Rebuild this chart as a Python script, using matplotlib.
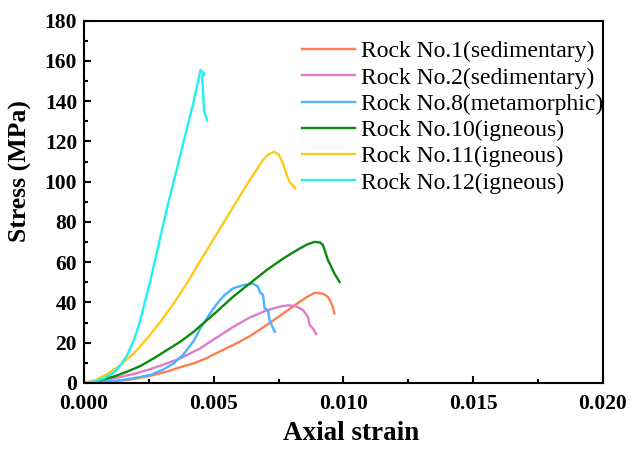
import numpy as np
import matplotlib
matplotlib.use("Agg")
import matplotlib.pyplot as plt
from matplotlib.ticker import MultipleLocator

plt.rcParams['font.family'] = ['Liberation Serif', 'DejaVu Serif']

# strain values, stress in MPa
strain_1 = [0, 0.00064, 0.00128, 0.00192, 0.00256, 0.0032, 0.00372, 0.00423, 0.0047, 0.0051,
            0.00574, 0.00638, 0.00703, 0.00767, 0.00831, 0.0086, 0.00889, 0.00921, 0.0094,
            0.0095, 0.00959, 0.00965]
stress_1 = [0, 0.5, 1.0, 2.0, 3.6, 5.7, 7.9, 9.8, 12.2, 14.8,
            18.8, 23.2, 28.7, 34.5, 40.3, 42.8, 44.8, 44.4, 42.8,
            40.5, 37.8, 34.5]

strain_2 = [0, 0.00064, 0.00128, 0.00192, 0.00256, 0.0032, 0.00372, 0.00423, 0.00446, 0.0051,
            0.00574, 0.00638, 0.00703, 0.0075, 0.00786, 0.00818, 0.00844, 0.00863, 0.0087,
            0.00882, 0.00895]
stress_2 = [0, 1.2, 2.7, 4.5, 6.9, 9.8, 12.3, 15.6, 17.1, 22.5,
            27.8, 32.5, 36.0, 37.8, 38.6, 38.1, 36.2, 32.9, 28.7,
            27.1, 24.3]

strain_8 = [0, 0.00128, 0.00192, 0.00256, 0.00308, 0.00346, 0.00385, 0.00423, 0.0045, 0.0048,
            0.0051, 0.0054, 0.00574, 0.00613, 0.00651, 0.00671, 0.00677, 0.0069, 0.00696,
            0.00709, 0.00715, 0.00735]
stress_8 = [0, 1.2, 2.4, 4.0, 6.9, 9.8, 14.5, 21.0, 27.5, 33.5,
            39.0, 43.5, 47.0, 48.6, 49.4, 47.8, 45.3, 43.7, 37.0,
            36.2, 31.2, 25.4]

strain_10 = [0, 0.00064, 0.00115, 0.00167, 0.00218, 0.00269, 0.0032, 0.00372, 0.00423, 0.0051,
             0.00574, 0.00638, 0.00703, 0.00767, 0.00831, 0.0086, 0.00888, 0.0091, 0.00921,
             0.0093, 0.0094, 0.00953, 0.00965, 0.00985]
stress_10 = [0, 1.5, 3.2, 5.7, 8.5, 12.3, 16.4, 20.6, 25.5, 35.3,
             42.8, 49.4, 56.0, 61.8, 66.8, 68.8, 70.1, 69.8, 68.5,
             65.0, 61.0, 57.7, 54.4, 50.2]

strain_11 = [0, 0.00045, 0.0009, 0.00141, 0.00192, 0.00244, 0.00295, 0.00346, 0.00397, 0.00433,
             0.00497, 0.00561, 0.00625, 0.00689, 0.0071, 0.00732, 0.0075, 0.00767, 0.00779,
             0.00792, 0.00814]
stress_11 = [0, 1.5, 4.5, 9.0, 14.8, 22.2, 30.5, 39.6, 49.6, 57.5,
             71.0, 84.5, 98.0, 110.7, 113.5, 114.9, 113.5, 109.1, 104.1,
             100.0, 96.7]

strain_12 = [0, 0.00038, 0.00077, 0.00115, 0.00141, 0.00167, 0.00192, 0.00212, 0.00231, 0.00254,
             0.00318, 0.00382, 0.00421, 0.00449, 0.00464, 0.00455, 0.00459, 0.00462, 0.00474]
stress_12 = [0, 0.8, 2.4, 5.2, 9.0, 14.0, 21.4, 29.0, 38.5, 50.0,
             85.9, 119.0, 139.0, 155.5, 153.5, 152.2, 144.0, 135.6, 130.6]

labels = ["Rock No.1(sedimentary)", "Rock No.2(sedimentary)", "Rock No.8(metamorphic)",
          "Rock No.10(igneous)", "Rock No.11(igneous)", "Rock No.12(igneous)"]
colors = ["#FF7F4F", "#E07CC8", "#4DB3FF", "#0B8A0B", "#FFC91A", "#1EF2F2"]

series = [(strain_1, stress_1), (strain_2, stress_2), (strain_8, stress_8),
          (strain_10, stress_10), (strain_11, stress_11), (strain_12, stress_12)]

fig = plt.figure(figsize=(6.32, 4.49), dpi=100)
ax = fig.add_axes([0.133, 0.147, 0.821, 0.807])

for (x, y), lab, c in zip(series, labels, colors):
    ax.plot(x, y, color=c, lw=1.7, label=lab, solid_joinstyle="round")

ax.set_xlim(0, 0.020)
ax.set_ylim(0, 180)
ax.xaxis.set_major_locator(MultipleLocator(0.005))
ax.xaxis.set_minor_locator(MultipleLocator(0.0025))
ax.yaxis.set_major_locator(MultipleLocator(20))
ax.yaxis.set_minor_locator(MultipleLocator(10))
ax.xaxis.set_major_formatter(plt.FuncFormatter(lambda v, p: "%.3f" % v))

ax.tick_params(which="both", direction="in", top=False, right=False, width=1.5)
ax.tick_params(which="major", length=5, labelsize=15.5)
ax.tick_params(which="minor", length=3)
ax.tick_params(axis="x", pad=8)
ax.tick_params(axis="y", pad=5)
for lab in ax.get_xticklabels() + ax.get_yticklabels():
    lab.set_fontweight("bold")
for s in ax.spines.values():
    s.set_linewidth(1.5)

ax.set_xlabel("Axial strain", fontsize=19.5, fontweight="bold")
ax.set_ylabel("Stress (MPa)", fontsize=18.5, fontweight="bold")
ax.xaxis.set_label_coords(0.514, -0.106)
ax.yaxis.set_label_coords(-0.10, 0.585)

ax.legend(loc="upper left", bbox_to_anchor=(0.388, 0.99), frameon=False, fontsize=17,
          handlelength=2.25, handletextpad=0.25, labelspacing=0.2, borderpad=0.2)

fig.savefig("out.png", dpi=100)
